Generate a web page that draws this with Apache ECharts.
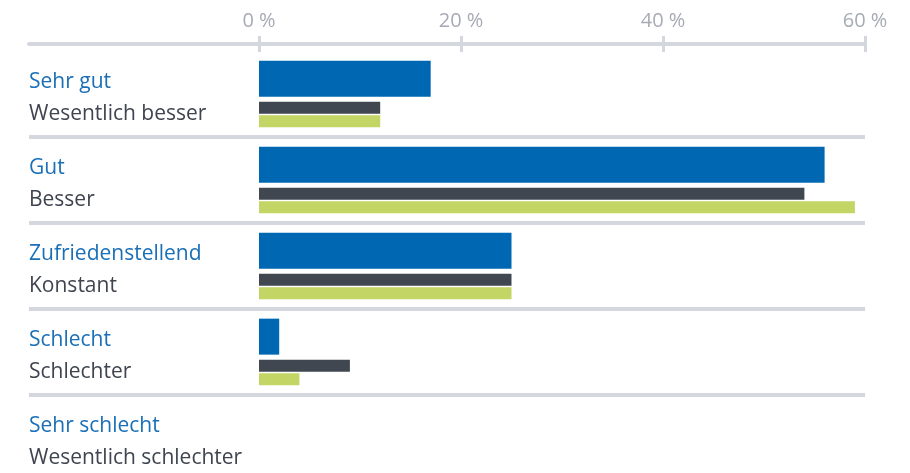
<!DOCTYPE html>
<html>
<head>
<meta charset="utf-8">
<script src="https://cdn.jsdelivr.net/npm/echarts@6/dist/echarts.min.js"></script>
<style>
html,body{margin:0;padding:0;background:#fff;}
#chart{width:910px;height:473px;}
</style>
</head>
<body>
<div id="chart"></div>
<script>
// Data
var topLabels = ['Sehr gut', 'Gut', 'Zufriedenstellend', 'Schlecht', 'Sehr schlecht'];
var bottomLabels = ['Wesentlich besser', 'Besser', 'Konstant', 'Schlechter', 'Wesentlich schlechter'];
var seriesBlue = [17, 56, 25, 2, 0];
var seriesDark = [12, 54, 25, 9, 0];
var seriesGreen = [12, 59, 25, 4, 0];
var tickValues = [0, 20, 40, 60];

var categories = topLabels.map(function (t, i) { return t + '|' + bottomLabels[i]; });

var gridLeft = 29, gridRight = 45;
var axisMax = 60;
// zero sits at x=259 px; range extended left to leave room for labels
var axisMin = -((259 - gridLeft) / ((910 - gridRight - 259) / axisMax));

var sepColor = '#d5d7de';
var chart = echarts.init(document.getElementById('chart'));
var splitColors = ['rgba(0,0,0,0)'];
for (var i = 0; i < categories.length + 1; i++) splitColors.push(sepColor);

var option = {
  animation: false,
  grid: { left: gridLeft, right: gridRight, top: 51, height: 430, outerBoundsMode: 'none', containLabel: false },
  xAxis: [{
    type: 'value', position: 'top', offset: 7, min: axisMin, max: axisMax,
    axisLine: { show: true, lineStyle: { color: sepColor, width: 4 } },
    axisTick: { show: true, customValues: tickValues, length: 8, lineStyle: { color: sepColor, width: 3 } },
    axisLabel: { customValues: tickValues, formatter: '{value} %', color: '#a7abb5', fontSize: 20,
      fontFamily: 'Open Sans', margin: 13 },
    splitLine: { show: false }
  }, {
    type: 'value', position: 'top', offset: 7, min: axisMin, max: axisMax,
    axisLine: { show: false },
    axisTick: { show: true, inside: true, customValues: tickValues, length: 8, lineStyle: { color: sepColor, width: 3 } },
    axisLabel: { show: false },
    splitLine: { show: false }
  }],
  yAxis: {
    type: 'category', inverse: true, data: categories,
    axisLine: { show: false }, axisTick: { show: false },
    splitLine: { show: true, interval: 0, lineStyle: { color: splitColors, width: 4 } },
    axisLabel: {
      inside: true, margin: 0, align: 'left', interval: 0,
      formatter: function (v) {
        var p = v.split('|');
        return '{a|' + p[0] + '}\n{b|' + p[1] + '}';
      },
      rich: {
        a: { color: '#1a6fb6', fontSize: 21, letterSpacing: 0.6, fontFamily: 'Open Sans', lineHeight: 40, padding: [12, 0, 0, 0] },
        b: { color: '#3f4550', fontSize: 21, letterSpacing: 0.6, fontFamily: 'Open Sans', lineHeight: 36 }
      }
    }
  },
  series: [
    { type: 'bar', data: seriesBlue, barWidth: 36, barGap: '14%', itemStyle: { color: '#0068b3' } },
    { type: 'bar', data: seriesDark, barWidth: 12, barGap: '14%', itemStyle: { color: '#414751' } },
    { type: 'bar', data: seriesGreen, barWidth: 12, barGap: '14%', itemStyle: { color: '#c2d565' } }
  ]
};
chart.setOption(option);
</script>
</body>
</html>
